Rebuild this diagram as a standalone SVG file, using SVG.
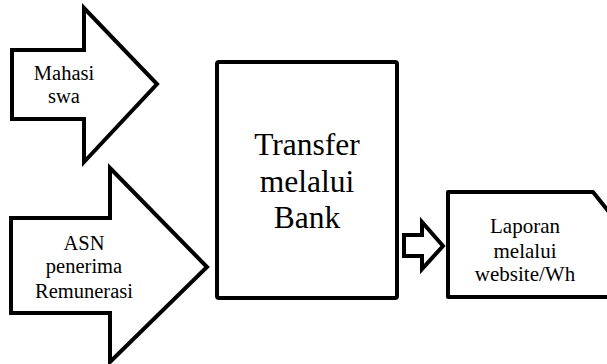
<svg xmlns="http://www.w3.org/2000/svg" width="607" height="364" viewBox="0 0 607 364">
<style>
.s{fill:#fff;stroke:#000;stroke-width:4;stroke-linejoin:miter;stroke-miterlimit:10}
.r{fill:#fff;stroke:#000;stroke-width:4;stroke-linejoin:round}
.t{font-family:"Liberation Serif","Times New Roman",serif;fill:#000;text-anchor:middle}
</style>
<rect width="607" height="364" fill="#fff"/>
<g id="mahasiswa">
<path class="s" d="M12,50 H84 V8 L157,84 L84,162 V119 H12 Z"/>
<text class="t" font-size="20.5"><tspan x="64" y="80">Mahasi</tspan><tspan x="64" y="103">swa</tspan></text>
</g>
<g id="asn">
<path class="s" d="M11,218 H110 V168 L207,267 L110,362 V313 H11 Z"/>
<text class="t" font-size="20.5"><tspan x="84" y="250">ASN</tspan><tspan x="84" y="273">penerima</tspan><tspan x="84" y="298">Remunerasi</tspan></text>
</g>
<g id="transfer">
<rect class="r" x="217" y="62" width="180" height="236" rx="2"/>
<text class="t" font-size="31.5"><tspan x="307" y="155">Transfer</tspan><tspan x="307" y="192">melalui</tspan><tspan x="307" y="228">Bank</tspan></text>
</g>
<g id="connectors">
<path class="s" d="M404,235 H422 V222 L443,246 L422,269 V256 H404 Z"/>
</g>
<g id="laporan">
<path class="r" d="M448,192 H593 L613,217 V297 H448 Z"/>
<text class="t" font-size="21"><tspan x="525" y="233">Laporan</tspan><tspan x="525" y="258">melalui</tspan><tspan x="525" y="281">website/Wh</tspan></text>
</g>
</svg>
